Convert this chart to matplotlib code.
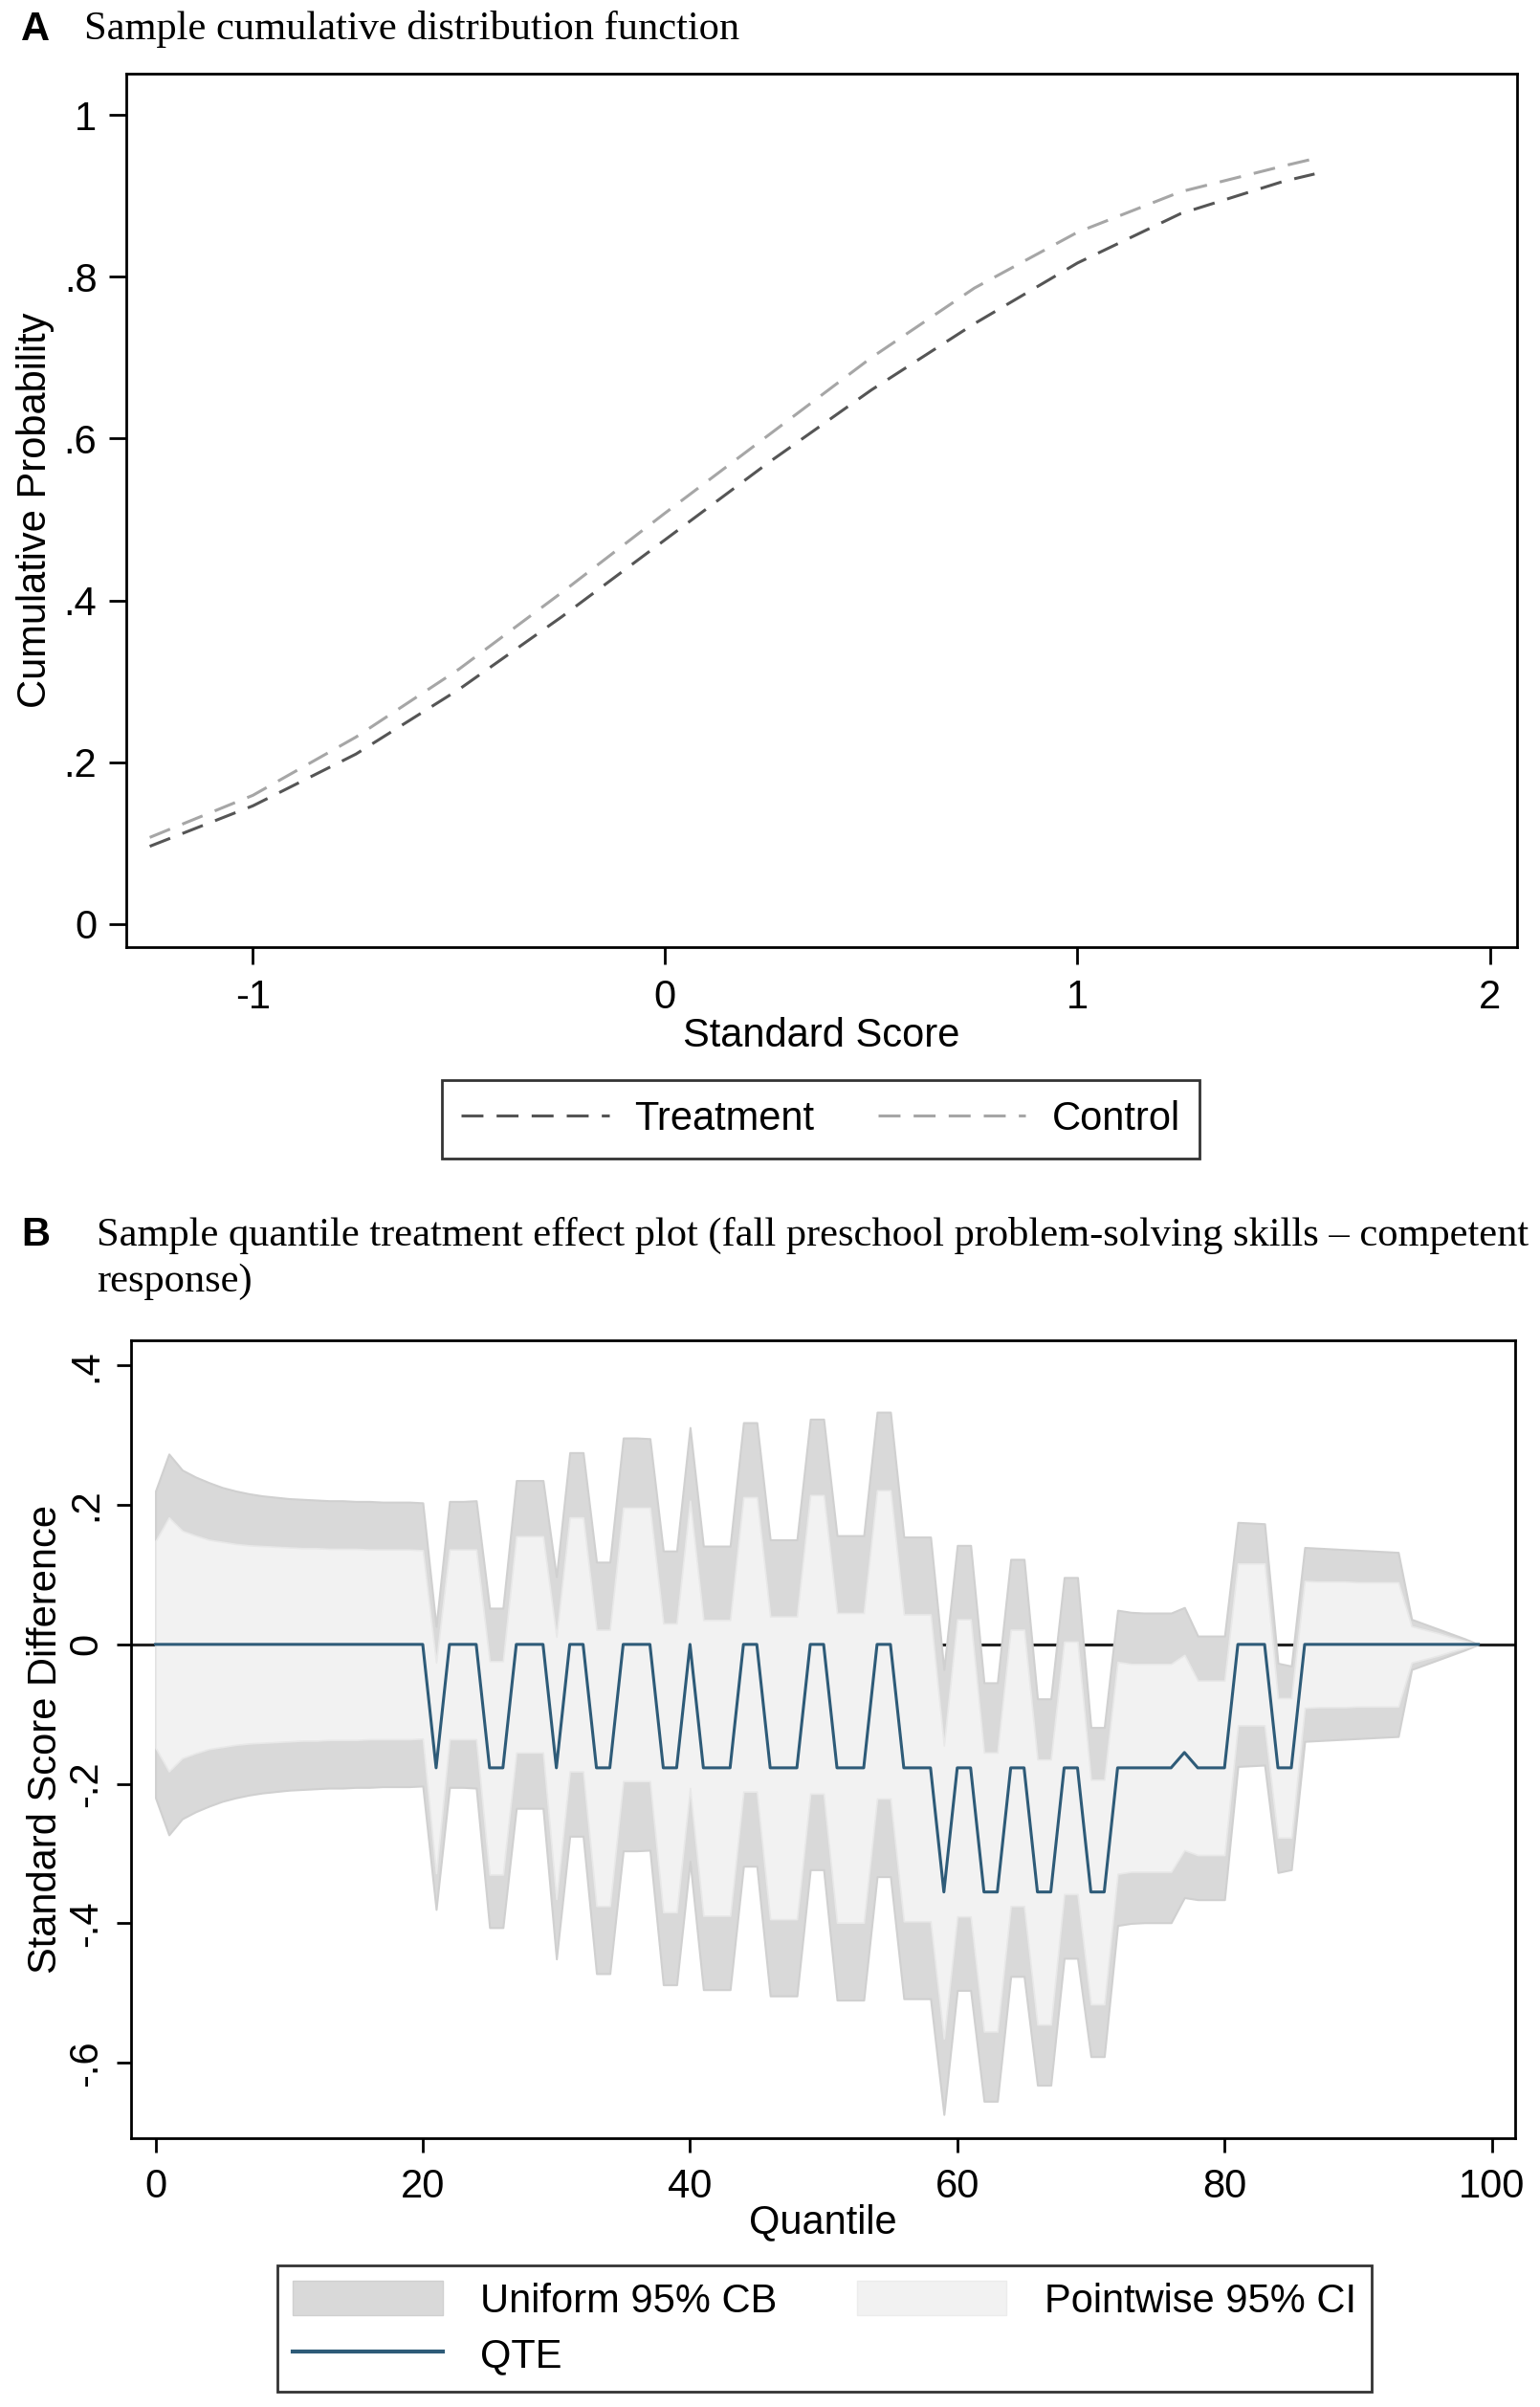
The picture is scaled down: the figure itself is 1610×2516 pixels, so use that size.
import numpy as np
import matplotlib.pyplot as plt
from matplotlib.patches import Patch
from matplotlib.lines import Line2D

plt.rcParams['font.family'] = ['Liberation Sans', 'DejaVu Sans']
SERIF = ['Liberation Serif', 'DejaVu Serif']

# ---- panel A: sample CDFs ----
score = [-1.25, -1.0, -0.75, -0.5, -0.25, 0.0, 0.25, 0.5, 0.75, 1.0, 1.25, 1.5, 1.575]
cdf_treatment = [0.096, 0.146, 0.210, 0.290, 0.380, 0.475, 0.570, 0.660, 0.742, 0.817, 0.878, 0.918, 0.927]
cdf_control = [0.107, 0.159, 0.231, 0.315, 0.410, 0.508, 0.604, 0.700, 0.786, 0.855, 0.905, 0.937, 0.946]

# ---- panel B: quantile treatment effects, q = 0..99 ----
quantile = np.arange(100)
qte = ([0.0] * 21 + [-0.177] + [0.0] * 3 + [-0.177] * 2 + [0.0] * 3 + [-0.177]
       + [0.0] * 2 + [-0.177] * 2 + [0.0] * 3 + [-0.177] * 2 + [0.0]
       + [-0.177] * 3 + [0.0] * 2 + [-0.177] * 3 + [0.0] * 2 + [-0.177] * 3
       + [0.0] * 2 + [-0.177] * 3 + [-0.355] + [-0.177] * 2 + [-0.355] * 2
       + [-0.177] * 2 + [-0.355] * 2 + [-0.177] * 2 + [-0.355] * 2
       + [-0.177] * 5 + [-0.155] + [-0.177] * 3 + [0.0] * 3 + [-0.177] * 2
       + [0.0] * 14)
# half widths of the uniform band and the pointwise interval
cb_half = [0.220, 0.273, 0.250, 0.240, 0.232, 0.225, 0.220, 0.216, 0.213, 0.211,
           0.209, 0.208, 0.207, 0.206, 0.206, 0.205, 0.205, 0.204, 0.204, 0.204,
           0.203, 0.203, 0.205, 0.205, 0.206, 0.229, 0.229, 0.235, 0.235, 0.235,
           0.274, 0.275, 0.275, 0.295, 0.295, 0.296, 0.296, 0.295, 0.311, 0.311,
           0.311, 0.318, 0.318, 0.318, 0.318, 0.318, 0.327, 0.327, 0.327, 0.323,
           0.323, 0.333, 0.333, 0.333, 0.333, 0.333, 0.331, 0.331, 0.331, 0.319,
           0.319, 0.319, 0.300, 0.300, 0.299, 0.299, 0.277, 0.277, 0.273, 0.273,
           0.236, 0.236, 0.226, 0.223, 0.222, 0.222, 0.222, 0.208, 0.189, 0.189,
           0.189, 0.175, 0.174, 0.173, 0.150, 0.146, 0.139, 0.138, 0.137, 0.136,
           0.135, 0.134, 0.133, 0.132, 0.036, 0.029, 0.022, 0.015, 0.008, 0.0]
ci_half = [0.148, 0.182, 0.163, 0.156, 0.150, 0.147, 0.144, 0.142, 0.141, 0.140,
           0.139, 0.138, 0.138, 0.137, 0.137, 0.137, 0.136, 0.136, 0.136, 0.136,
           0.135, 0.151, 0.136, 0.136, 0.136, 0.153, 0.153, 0.155, 0.155, 0.155,
           0.188, 0.182, 0.182, 0.198, 0.198, 0.196, 0.196, 0.196, 0.207, 0.207,
           0.206, 0.212, 0.212, 0.212, 0.211, 0.211, 0.217, 0.217, 0.217, 0.214,
           0.214, 0.222, 0.222, 0.222, 0.221, 0.221, 0.220, 0.220, 0.220, 0.210,
           0.213, 0.213, 0.200, 0.200, 0.198, 0.198, 0.190, 0.190, 0.181, 0.181,
           0.161, 0.161, 0.152, 0.149, 0.149, 0.149, 0.149, 0.140, 0.125, 0.125,
           0.125, 0.116, 0.116, 0.116, 0.100, 0.100, 0.091, 0.090, 0.090, 0.090,
           0.089, 0.089, 0.089, 0.089, 0.026, 0.021, 0.016, 0.010, 0.005, 0.0]

qte = np.array(qte)
cb_half = np.array(cb_half)
ci_half = np.array(ci_half)

W, H = 1610, 2516


def box(l, t, r, b):
    return [l / W, 1 - b / H, (r - l) / W, (b - t) / H]


FS = 30
TFS = 30.6
fig = plt.figure(figsize=(W / 100, H / 100), dpi=100)

# ================= panel A =================
axA = fig.add_axes(box(132, 77, 1586, 990))
dash = (0, (7.5, 4.5))
axA.plot(score, cdf_treatment, color='#555555', lw=2.2, linestyle=dash, label='Treatment')
axA.plot(score, cdf_control, color='#a6a6a6', lw=2.2, linestyle=dash, label='Control')
axA.set_xlim(-1.307, 2.066)
axA.set_ylim(-0.0286, 1.051)
axA.set_xticks([-1, 0, 1, 2])
axA.set_xticklabels(['-1', '0', '1', '2'])
axA.set_yticks([0, 0.2, 0.4, 0.6, 0.8, 1.0])
axA.set_yticklabels(['0', '.2', '.4', '.6', '.8', '1'])
axA.tick_params(direction='out', length=13, width=2, labelsize=FS)
axA.tick_params(axis='x', pad=11)
axA.tick_params(axis='y', pad=9)
for s in axA.spines.values():
    s.set_linewidth(2)
axA.set_xlabel('Standard Score', fontsize=FS, labelpad=0)
axA.set_ylabel('Cumulative Probability', fontsize=FS, labelpad=7)
axA.legend(loc='center', bbox_to_anchor=(858 / W, 1 - 1170 / H), bbox_transform=fig.transFigure,
           ncol=2, fontsize=FS, frameon=True, fancybox=False, edgecolor='black',
           handlelength=3.7, handletextpad=0.65, columnspacing=1.6, borderpad=0.5,
           borderaxespad=0).get_frame().set_linewidth(2)

fig.text(22 / W, 1 - 31 / H, 'A', fontsize=FS, fontweight='bold', va='center', ha='left')
fig.text(88 / W, 1 - 31 / H, 'Sample cumulative distribution function', fontsize=TFS,
         family=SERIF, va='center', ha='left')

# ================= panel B =================
axB = fig.add_axes(box(137, 1401, 1584, 2235))
axB.axhline(0, color='#222222', lw=2.2, zorder=1)
axB.fill_between(quantile, qte - cb_half, qte + cb_half, facecolor='#d9d9d9',
                 edgecolor='#d0d0d0', lw=1.5, zorder=2)
axB.fill_between(quantile, qte - ci_half, qte + ci_half, facecolor='#f2f2f2',
                 edgecolor='#e8e8e8', lw=1.2, zorder=3)
axB.plot(quantile, qte, color='#2e5b78', lw=2.2, zorder=4)
axB.set_xlim(-1.83, 101.75)
axB.set_ylim(-0.708, 0.436)
axB.set_xticks([0, 20, 40, 60, 80, 100])
axB.set_yticks([0.4, 0.2, 0.0, -0.2, -0.4, -0.6])
axB.set_yticklabels(['.4', '.2', '0', '-.2', '-.4', '-.6'], rotation=90, va='center')
axB.tick_params(direction='out', length=11, width=2, labelsize=FS)
axB.tick_params(axis='x', pad=11)
axB.tick_params(axis='y', pad=8)
for s in axB.spines.values():
    s.set_linewidth(2)
axB.set_xlabel('Quantile', fontsize=FS, labelpad=-2)
axB.set_ylabel('Standard Score Difference', fontsize=FS, labelpad=2)

handles = [Patch(facecolor='#d9d9d9', edgecolor='#d0d0d0'),
           Line2D([], [], color='#2e5b78', lw=3),
           Patch(facecolor='#f2f2f2', edgecolor='#ececec')]
labels = ['Uniform 95% CB', 'QTE', 'Pointwise 95% CI']
axB.legend(handles, labels, loc='center', bbox_to_anchor=(862 / W, 1 - 2434 / H),
           bbox_transform=fig.transFigure, ncol=2, fontsize=FS, frameon=True,
           fancybox=False, edgecolor='black', handlelength=3.75, handleheight=0.95,
           handletextpad=0.95, columnspacing=2.0, labelspacing=0.4, borderpad=0.4,
           borderaxespad=0).get_frame().set_linewidth(2)

fig.text(22 / W, 1 - 1291 / H, 'B', fontsize=FS, fontweight='bold', va='center', ha='left')
fig.text(101 / W, 1 - 1291 / H,
         'Sample quantile treatment effect plot (fall preschool problem-solving skills \u2013 competent',
         fontsize=TFS, family=SERIF, va='center', ha='left')
fig.text(101 / W, 1 - 1340 / H, 'response)', fontsize=TFS, family=SERIF, va='center', ha='left')

fig.savefig('out.png', dpi=100, facecolor='white')
